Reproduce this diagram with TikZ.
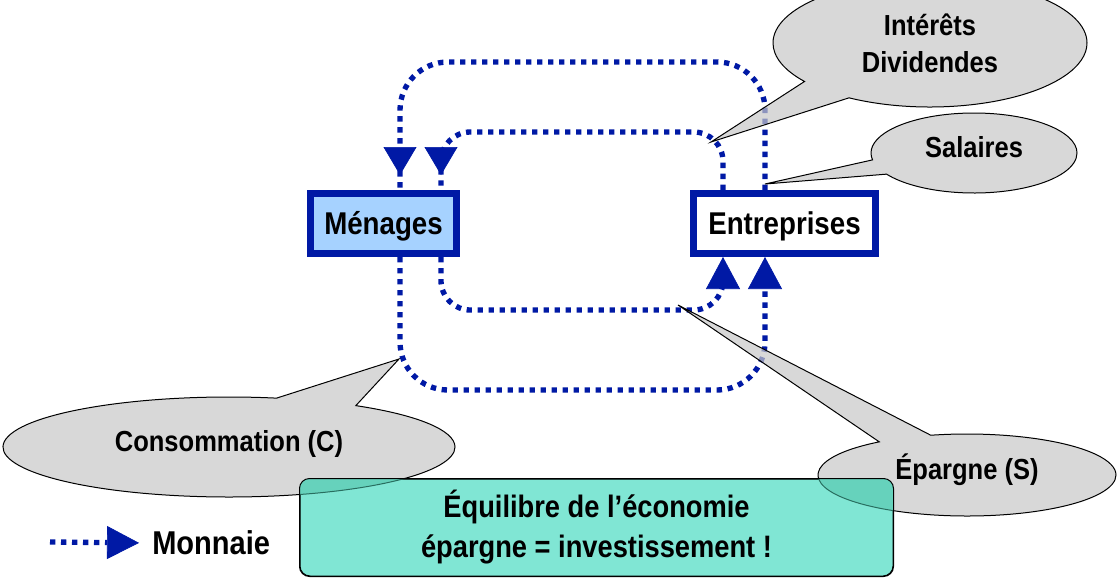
\documentclass[tikz,border=0pt]{standalone}
\usepackage{fontspec}
\setmainfont{Liberation Sans}[FakeStretch=0.88]
\usetikzlibrary{arrows.meta,decorations.markings,shapes.callouts,calc}
\definecolor{mblue}{RGB}{0,25,165}
\definecolor{mfill}{RGB}{166,210,255}
\definecolor{cgray}{RGB}{200,200,200}
\definecolor{eqfill}{RGB}{128,230,212}
\definecolor{eqover}{RGB}{102,210,188}
\definecolor{eqline}{RGB}{40,110,95}
\begin{document}
\begin{tikzpicture}[x=0.75pt,y=-0.75pt,
  agent/.style={draw=mblue,line width=5.25pt,minimum height=45pt,inner sep=0pt,
    text height=17pt,text depth=0pt,
    font=\fontsize{23.6}{28}\selectfont\bfseries},
  money/.style={draw=mblue,line width=4pt,dash pattern=on 4pt off 4.25pt},
  toparrow/.style={postaction={decorate},decoration={markings,
    mark=at position -11.25pt with {\arrow{Triangle[length=21pt,width=24.75pt,line width=0.5pt]}}}},
  botarrow/.style={-{Triangle[length=24pt,width=25.5pt,line width=0.5pt]}},
  bubble/.style={ellipse callout,draw=black,line width=0.75pt,fill=cgray,
    fill opacity=0.7,text opacity=1,inner sep=0pt,align=center,
    font=\fontsize{21.75}{27.75}\selectfont\bfseries,callout pointer arc=22},
  onelabel/.style={text height=15.6pt,text depth=9pt},
]
\useasboundingbox (0,0) rectangle (1120,582);

% column / row guides
\coordinate (xL) at (400,0);
\coordinate (xLi) at (441,0);
\coordinate (xRi) at (723,0);
\coordinate (xR) at (765,0);
\coordinate (yT) at (0,62);
\coordinate (yTi) at (0,132);
\coordinate (yBi) at (0,310);
\coordinate (yBo) at (0,390);

% agents
\node[agent,fill=mfill,minimum width=109.5pt] (men) at (383.5,223.5) {Ménages};
\node[agent,fill=white,minimum width=136.5pt] (ent) at (784.5,223.5) {Entreprises};

% money flows
\draw[money,toparrow,rounded corners=36pt] (ent.north -| xR) -- (xR |- yT) -- (xL |- yT) -- (men.north -| xL);
\draw[money,toparrow,rounded corners=22pt] (ent.north -| xRi) -- (xRi |- yTi) -- (xLi |- yTi) -- (men.north -| xLi);
\draw[money,botarrow,rounded corners=22pt] (men.south -| xLi) -- (xLi |- yBi) -- (xRi |- yBi) -- (ent.south -| xRi);
\draw[money,botarrow,rounded corners=36pt] (men.south -| xL) -- (xL |- yBo) -- (xR |- yBo) -- (ent.south -| xR);

% callouts
\coordinate (tipI) at (711,142);
\coordinate (tipS) at (765,184);
\coordinate (tipC) at (399,359);
\coordinate (tipE) at (678,305);
\node[bubble,minimum width=235.5pt,minimum height=96pt,callout absolute pointer=(tipI)] (int) at (930,43) {Intérêts\\Dividendes};
\node[bubble,onelabel,minimum width=154.5pt,minimum height=60pt,callout absolute pointer=(tipS)] (sal) at (974,153) {Salaires};
\node[bubble,onelabel,minimum width=339pt,minimum height=75pt,callout absolute pointer=(tipC)] (cons) at (229,447) {Consommation (C)};
\node[bubble,onelabel,minimum width=223.5pt,minimum height=61.5pt,callout absolute pointer=(tipE)] (ep) at (967,475) {Épargne (S)};

% equilibrium box
\node[draw=black,line width=0.75pt,fill=eqfill,rounded corners=7.5pt,minimum width=444.75pt,
  minimum height=72.75pt,align=center,font=\fontsize{23.25}{30}\selectfont\bfseries] (eq) at (596.5,527.5)
  {Équilibre de l’économie\\épargne = investissement !};
\begin{scope}
  \clip[rounded corners=7.5pt] (eq.south west) rectangle (eq.north east);
  \filldraw[fill=eqover,draw=eqline,line width=0.75pt] (cons.center) ellipse [x radius=169.5pt,y radius=37.5pt];
  \filldraw[fill=eqover,draw=eqline,line width=0.75pt] (ep.center) ellipse [x radius=111.75pt,y radius=30.75pt];
\end{scope}
\draw[black,line width=0.75pt,rounded corners=7.5pt] (eq.south west) rectangle (eq.north east);

% legend
\coordinate (lg) at (50,542);
\node[anchor=west,inner sep=0pt,font=\fontsize{24.75}{30}\selectfont\bfseries] (mon) at (152,543) {Monnaie};
\draw[money,-{Triangle[length=24pt,width=24.75pt,line width=0.5pt]},shorten >=9.75pt] (lg) -- (mon.west);
\end{tikzpicture}
\end{document}
